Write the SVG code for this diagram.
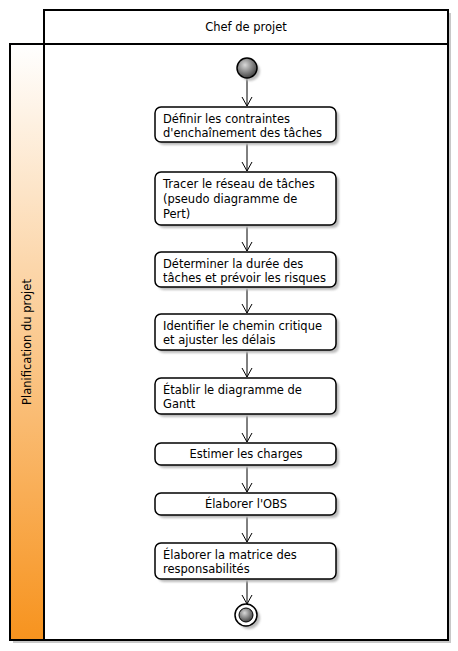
<svg xmlns="http://www.w3.org/2000/svg" width="458" height="651" viewBox="0 0 458 651">
<defs>
<linearGradient id="lane" x1="0" y1="0" x2="0" y2="1">
<stop offset="0" stop-color="#FFFFFF"/>
<stop offset="1" stop-color="#F7931E"/>
</linearGradient>
<radialGradient id="ball" cx="0.4" cy="0.35" r="0.7">
<stop offset="0" stop-color="#D8D8D8"/>
<stop offset="1" stop-color="#3A3A3A"/>
</radialGradient>
<filter id="sh" x="-20%" y="-20%" width="150%" height="150%">
<feGaussianBlur stdDeviation="1.2"/>
</filter>
<marker id="arr" markerWidth="12" markerHeight="12" refX="10" refY="6" orient="auto" markerUnits="userSpaceOnUse" viewBox="0 0 12 12">
<path d="M1,1 L10,6 L1,11" fill="none" stroke="#000" stroke-width="1"/>
</marker>
</defs>
<style>
.frame{fill:#FFFFFF;stroke:#000;stroke-width:2}
.shadow{fill:#C8C8C8}
.box{fill:#FFFFFF;stroke:#000;stroke-width:1.5}
.bsh{fill:#BBBBBB;filter:url(#sh)}
.t{font-family:"DejaVu Sans",sans-serif;font-size:11.5px;fill:#000}
.c{text-anchor:middle}
.edge{stroke:#000;stroke-width:1;fill:none;marker-end:url(#arr)}
</style>
<rect width="458" height="651" fill="#FFFFFF"/>

<g id="swimlanes">
<rect class="shadow" x="47" y="13" width="404" height="34"/>
<rect class="shadow" x="13" y="47" width="438" height="596"/>
<rect class="frame" x="44" y="10" width="404" height="34"/>
<text class="t c" x="246" y="31" font-size="12">Chef de projet</text>
<rect x="10" y="44" width="34" height="596" fill="url(#lane)" stroke="#000" stroke-width="2"/>
<rect class="frame" x="44" y="44" width="404" height="596"/>
<text class="t c" transform="translate(31,342) rotate(-90)">Planification du projet</text>
</g>

<g id="connectors">
<line class="edge" x1="247" y1="78" x2="247" y2="106"/>
<line class="edge" x1="247" y1="142" x2="247" y2="171"/>
<line class="edge" x1="247" y1="225" x2="247" y2="251"/>
<line class="edge" x1="247" y1="287" x2="247" y2="313"/>
<line class="edge" x1="247" y1="350" x2="247" y2="377"/>
<line class="edge" x1="247" y1="414" x2="247" y2="442"/>
<line class="edge" x1="247" y1="465" x2="247" y2="492"/>
<line class="edge" x1="247" y1="515" x2="247" y2="542"/>
<line class="edge" x1="247" y1="579" x2="247" y2="604"/>
</g>

<g id="start">
<circle cx="250" cy="71" r="10" fill="#BBBBBB" filter="url(#sh)"/>
<circle cx="247" cy="68" r="10" fill="url(#ball)" stroke="#000" stroke-width="1.5"/>
</g>

<g id="n1">
<rect class="bsh" x="158" y="110" width="181" height="35" rx="6"/>
<rect class="box" x="155" y="107" width="181" height="35" rx="6"/>
<text class="t" x="163" y="123">Définir les contraintes</text>
<text class="t" x="163" y="137">d'enchaînement des tâches</text>
</g>

<g id="n2">
<rect class="bsh" x="158" y="175" width="181" height="53" rx="6"/>
<rect class="box" x="155" y="172" width="181" height="53" rx="6"/>
<text class="t" x="163" y="188">Tracer le réseau de tâches</text>
<text class="t" x="163" y="203">(pseudo diagramme de</text>
<text class="t" x="163" y="218">Pert)</text>
</g>

<g id="n3">
<rect class="bsh" x="158" y="255" width="181" height="35" rx="6"/>
<rect class="box" x="155" y="252" width="181" height="35" rx="6"/>
<text class="t" x="163" y="268">Déterminer la durée des</text>
<text class="t" x="163" y="282">tâches et prévoir les risques</text>
</g>

<g id="n4">
<rect class="bsh" x="158" y="317" width="181" height="36" rx="6"/>
<rect class="box" x="155" y="314" width="181" height="36" rx="6"/>
<text class="t" x="163" y="330">Identifier le chemin critique</text>
<text class="t" x="163" y="344">et ajuster les délais</text>
</g>

<g id="n5">
<rect class="bsh" x="158" y="381" width="181" height="36" rx="6"/>
<rect class="box" x="155" y="378" width="181" height="36" rx="6"/>
<text class="t" x="163" y="394">Établir le diagramme de</text>
<text class="t" x="163" y="408">Gantt</text>
</g>

<g id="n6">
<rect class="bsh" x="158" y="446" width="181" height="22" rx="6"/>
<rect class="box" x="155" y="443" width="181" height="22" rx="6"/>
<text class="t c" x="246" y="458">Estimer les charges</text>
</g>

<g id="n7">
<rect class="bsh" x="158" y="496" width="181" height="22" rx="6"/>
<rect class="box" x="155" y="493" width="181" height="22" rx="6"/>
<text class="t c" x="246" y="508">Élaborer l'OBS</text>
</g>

<g id="n8">
<rect class="bsh" x="158" y="546" width="181" height="36" rx="6"/>
<rect class="box" x="155" y="543" width="181" height="36" rx="6"/>
<text class="t" x="163" y="559">Élaborer la matrice des</text>
<text class="t" x="163" y="573">responsabilités</text>
</g>

<g id="end">
<circle cx="249" cy="618" r="11" fill="#BBBBBB" filter="url(#sh)"/>
<circle cx="246" cy="615" r="11" fill="#FFFFFF" stroke="#000" stroke-width="1.5"/>
<circle cx="246" cy="615" r="7" fill="url(#ball)" stroke="#000" stroke-width="1"/>
</g>
</svg>
